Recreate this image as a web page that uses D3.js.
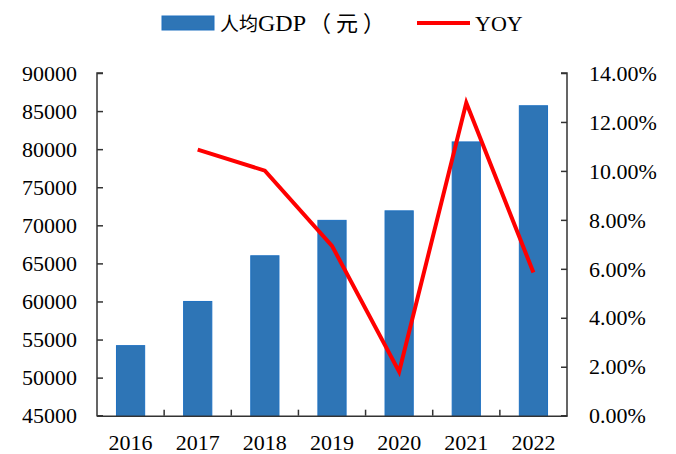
<!DOCTYPE html>
<html><head><meta charset="utf-8">
<script src="https://cdn.jsdelivr.net/npm/d3@7"></script>
<style>
body{margin:0;background:#fff;}
text{font-family:"Liberation Serif","Times New Roman",serif;}
</style></head>
<body><svg id="c" width="676" height="454"></svg>
<script>
const years = ["2016","2017","2018","2019","2020","2021","2022"];
const gdp = [54200, 60000, 66000, 70650, 71900, 80950, 85700];
const yoyYears = ["2017","2018","2019","2020","2021","2022"];
const yoy = [10.87, 10.01, 6.94, 1.80, 12.78, 5.85];
const leftTicks = [45000,50000,55000,60000,65000,70000,75000,80000,85000,90000];
const rightTicks = [0,2,4,6,8,10,12,14];

const svg = d3.select("#c");
const L = 97, R = 567, T = 73, B = 415.7;
const x = d3.scaleBand().domain(years).range([L, R]).paddingInner(0.58).paddingOuter(0.29);
const xb = d3.scaleBand().domain(years).range([L, R]);
const yL = d3.scaleLinear().domain([45000, 90000]).range([B, T]);
const yR = d3.scaleLinear().domain([0, 14]).range([B, T]);

// bars
svg.append("g").selectAll("rect").data(years).join("rect")
  .attr("x", d => x(d)).attr("width", x.bandwidth())
  .attr("y", (d,i) => yL(gdp[i])).attr("height", (d,i) => B - yL(gdp[i]))
  .attr("fill", "#2E75B6").attr("stroke", "#1E70C0").attr("stroke-width", 1);

// axes
const axisColor = "#333";
const gl = svg.append("g").attr("transform", `translate(${L},0)`)
  .call(d3.axisRight(yL).tickValues(leftTicks).tickSize(6).tickFormat(""));
svg.append("g").selectAll("text").data(leftTicks).join("text")
  .attr("x", 77).attr("y", d => yL(d)).attr("dy", "0.35em")
  .attr("text-anchor", "end").attr("font-size", 22).attr("fill", "#000").text(d => d);

const gr = svg.append("g").attr("transform", `translate(${R},0)`)
  .call(d3.axisLeft(yR).tickValues(rightTicks).tickSize(6).tickFormat(""));
svg.append("g").selectAll("text").data(rightTicks).join("text")
  .attr("x", 589).attr("y", d => yR(d)).attr("dy", "0.35em")
  .attr("text-anchor", "start").attr("font-size", 22).attr("fill", "#000").text(d => d.toFixed(2) + "%");

const gx = svg.append("g").attr("transform", `translate(0,${B})`)
  .call(d3.axisTop(xb).tickSize(0).tickFormat(""));
svg.append("g").selectAll("line").data(years.slice(1)).join("line")
  .attr("x1", d => xb(d)).attr("x2", d => xb(d)).attr("y1", B).attr("y2", B - 6)
  .attr("stroke", axisColor).attr("stroke-width", 1.5);
svg.append("g").selectAll("text").data(years).join("text")
  .attr("x", d => xb(d) + xb.bandwidth()/2).attr("y", 450)
  .attr("text-anchor", "middle").attr("font-size", 22).attr("fill", "#000").text(d => d);

[gl, gr, gx].forEach(g => {
  g.selectAll("path").attr("stroke", axisColor).attr("stroke-width", 1.5);
  g.selectAll("line").attr("stroke", axisColor).attr("stroke-width", 1.5);
});
gl.select("path").attr("d", `M6,${T}H0V${B}H6`);
gr.select("path").attr("d", `M-6,${T}H0V${B}H-6`);

// line
const line = d3.line().x((d,i) => xb(yoyYears[i]) + xb.bandwidth()/2).y(d => yR(d));
svg.append("path").datum(yoy).attr("d", line)
  .attr("fill", "none").attr("stroke", "#FF0000").attr("stroke-width", 4).attr("stroke-linejoin", "miter");

// legend
const lg = svg.append("g");
lg.append("rect").attr("x", 162).attr("y", 16).attr("width", 52).attr("height", 14)
  .attr("fill", "#2E75B6").attr("stroke", "#1E70C0");
const lt = lg.append("text").attr("x", 220).attr("y", 31).attr("fill", "#000")
  .style("font-family", "'Liberation Serif','Noto Sans CJK SC',serif");
lt.append("tspan").attr("font-size", 19).style("font-family", "'Noto Sans CJK SC',serif").text("人均");
lt.append("tspan").attr("font-size", 24).text("GDP");
lt.append("tspan").attr("font-size", 22).attr("dx", 3).style("letter-spacing", "5px")
  .style("font-family", "'Noto Sans CJK SC',serif").text("（元）");
lg.append("line").attr("x1", 417).attr("x2", 470).attr("y1", 23).attr("y2", 23)
  .attr("stroke", "#FF0000").attr("stroke-width", 4);
lg.append("text").attr("x", 475).attr("y", 31).attr("font-size", 22).attr("fill", "#000").text("YOY");
</script></body></html>
